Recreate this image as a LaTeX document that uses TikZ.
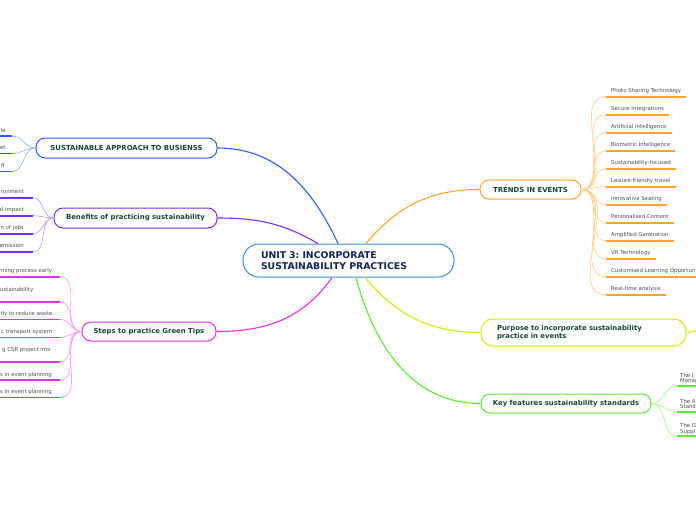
\documentclass[tikz,border=0pt]{standalone}
\usepackage{fontspec}
\setmainfont{DejaVu Sans}
\usetikzlibrary{calc}
\frenchspacing
\definecolor{approach}{HTML}{2A5CFF}
\definecolor{benefits}{HTML}{7B2BEF}
\definecolor{steps}{HTML}{E62EE6}
\definecolor{trends}{HTML}{FFA526}
\definecolor{purpose}{HTML}{CCF000}
\definecolor{keyfeat}{HTML}{5CEB2E}
\definecolor{unitblue}{HTML}{3B8ED6}
\definecolor{topictext}{HTML}{14463A}
\definecolor{unittext}{HTML}{0E2454}
\definecolor{leaftext}{HTML}{4D4D4D}

\begin{document}
\begin{tikzpicture}[x=1pt,y=-1pt,
  topic/.style={draw, line width=1pt, rounded corners=9pt, fill=white,
    font=\fontsize{6.9}{8.5}\selectfont\bfseries, text=topictext,
    minimum height=20pt, inner sep=0pt},
  leaf/.style={font=\fontsize{5.4}{5.8}\selectfont, text=leaftext, inner sep=0pt},
  link/.style={line width=1.1pt},
  twig/.style={line width=0.6pt},
  bar/.style={line width=1.6pt}]
  \useasboundingbox (0,0) rectangle (696,520);

  % centre and main topics
  \node[draw=unitblue, line width=1pt, rounded corners=16pt, fill=white,
    minimum width=211pt, minimum height=33pt, inner xsep=18pt, inner ysep=0pt,
    text width=175pt, align=left, font=\fontsize{9.3}{11}\selectfont\bfseries,
    text=unittext] (unit) at (348.5,260.5) {UNIT 3: INCORPORATE\\SUSTAINABILITY PRACTICES};
  \node[topic, draw=approach, minimum width=181pt] (approach) at (126.5,148) {SUSTAINABLE APPROACH TO BUSIENSS};
  \node[topic, draw=benefits, minimum width=163pt] (benefits) at (135.5,218) {Benefits of practicing sustainability};
  \node[topic, draw=steps, minimum width=134pt, minimum height=19pt] (steps) at (149,331.5) {Steps to practice Green Tips};
  \node[topic, draw=trends, minimum width=101pt, minimum height=19pt] (trends) at (530.5,189.5) {TRENDS IN EVENTS};
  \node[topic, draw=purpose, minimum width=205pt, minimum height=27pt, inner xsep=16pt,
    text width=173pt, align=left, rounded corners=12pt] (purpose) at (583.5,332.5) {Purpose to incorporate sustainability\\practice in events};
  \node[topic, draw=keyfeat, minimum width=170pt, minimum height=19pt] (keyfeat) at (566,403.5) {Key features sustainability standards};

  \draw[link, approach] ([xshift=-10.5pt]unit.north) to[out=115,in=0] (approach.east);
  \draw[link, benefits] ([xshift=-30.5pt]unit.north) to[out=150,in=0] (benefits.east);
  \draw[link, trends] ([xshift=17.5pt]unit.north) to[out=50,in=180] (trends.west);
  \draw[link, steps] ([xshift=-16.5pt]unit.south) to[out=235,in=0] (steps.east);
  \draw[link, purpose] ([xshift=16.5pt]unit.south) to[out=310,in=180] (purpose.west);
  \draw[link, keyfeat] ([xshift=7.5pt]unit.south) to[out=285,in=180] (keyfeat.west);
  \coordinate (purposenext) at (700,330);
  \draw[link, purpose] (purpose.east) to[out=0,in=180] (purposenext);

  % left leaves
  \foreach \ul/\te/\txt [count=\i] in {136/6/le, 153.5/5.7/et, 171.5/5.3/ft} {
    \node[leaf, anchor=base east] (appr\i) at (\te,\ul-4) {\txt};
    \coordinate (approut\i) at (-5,\ul);
    \coordinate (apprin\i) at (12,\ul);
    \draw[bar, approach] (approut\i) -- (apprin\i);
    \draw[twig, approach!50] (apprin\i) to[out=0,in=180] (approach.west);
  }
  \foreach \ul/\txt [count=\i] in {197.7/ronment, 215.7/al impact, 233.7/n of jobs, 251.7/emission} {
    \node[leaf, anchor=base east] (bene\i) at (24,\ul-4) {\txt};
    \coordinate (beneout\i) at (-5,\ul);
    \coordinate (benein\i) at (33,\ul);
    \draw[bar, benefits] (beneout\i) -- (benein\i);
    \draw[twig, benefits!50] (benein\i) to[out=0,in=180] (benefits.west);
  }
  \foreach \ul/\bl/\te/\txt [count=\i] in {276.7/272.7/52.3/nning process early,
      301.7/291/33.5/ustainability, 319.3/315.3/52.7/tly to reduce waste,
      337.3/333.3/52.3/c transport system, 361.7/351/51/g CSR project into,
      380/376/52/s in event planning, 397.3/393.3/52/s in event planning} {
    \node[leaf, anchor=base east] (step\i) at (\te,\bl) {\txt};
    \coordinate (stepout\i) at (-5,\ul);
    \coordinate (stepin\i) at (60,\ul);
    \draw[bar, steps] (stepout\i) -- (stepin\i);
    \draw[twig, steps!50] (stepin\i) to[out=0,in=180] (steps.west);
  }

  % right leaves
  \foreach \txt [count=\i] in {Photo Sharing Technology, Secure Integrations,
      Artificial Intelligence, Biometric Intelligence, Sustainability-focused,
      Leisure-friendly travel, Innovative Seating, Personalised Content,
      Amplified Generation, VR Technology, Customised Learning Opportun,
      Real-time analysis} {
    \pgfmathsetmacro{\ul}{96.7+18*(\i-1)}
    \node[leaf, anchor=base west] (trend\i) at (611,\ul-4) {\txt};
    \coordinate (trendin\i) at (606,\ul);
    \draw[bar, trends] (trendin\i) -- ($(trend\i.base east)+(5,4)$);
    \draw[twig, trends!55] (trends.east) to[out=0,in=180] (trendin\i);
  }
  \foreach \ul/\txt [count=\i] in {385.7/{The I\\Manag}, 411.7/{The A\\Stand}, 436/{The G\\Suppl}} {
    \node[leaf, anchor=north west, align=left] (std\i) at (680,\ul-13) {\txt};
    \coordinate (stdin\i) at (677,\ul);
    \coordinate (stdout\i) at (705,\ul);
    \draw[bar, keyfeat] (stdin\i) -- (stdout\i);
    \draw[twig, keyfeat!55] (keyfeat.east) to[out=0,in=180] (stdin\i);
  }
\end{tikzpicture}
\end{document}
